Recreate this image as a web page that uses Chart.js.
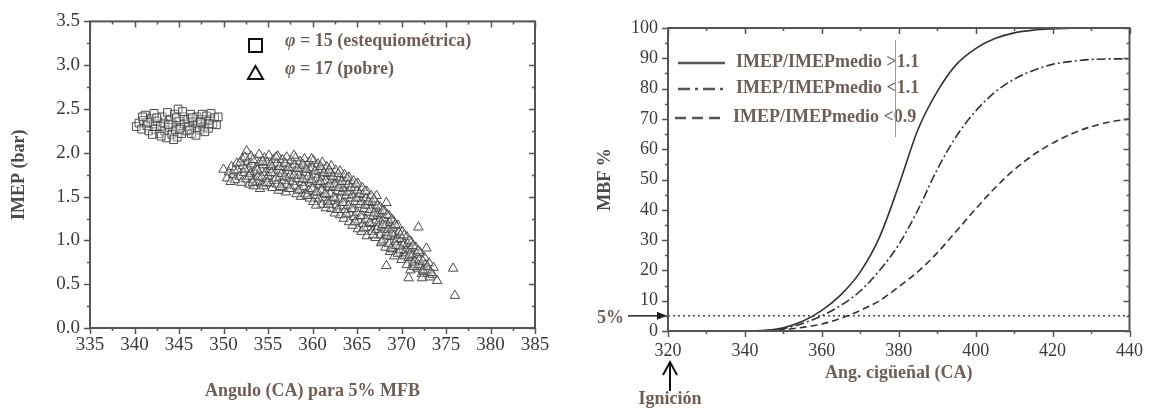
<!DOCTYPE html>
<html lang="es">
<head>
<meta charset="UTF-8">
<title>IMEP y MBF frente al ángulo</title>
<script src="https://cdn.jsdelivr.net/npm/chart.js"></script>
<style>
  body { margin: 0; background: #fff; }
  .wrap { position: relative; width: 1152px; height: 408px; }
  #imepChart { position: absolute; left: 0; top: 0; }
  #mbfChart { position: absolute; left: 560px; top: 0; }
</style>
</head>
<body>
<div class="wrap">
  <canvas id="imepChart" width="560" height="408"></canvas>
  <canvas id="mbfChart" width="592" height="408"></canvas>
</div>
<script>
// --- IMEP frente al ángulo de 5% MFB ---
const imepLabels = ['φ = 15 (estequiométrica)', 'φ = 17 (pobre)'];

// mezcla estequiométrica [ángulo, IMEP]
const squares = [
  [340.2,2.30],[340.5,2.34],[340.8,2.27],[341.2,2.43],[341.0,2.37],[341.4,2.31],[341.6,2.25],[341.9,2.39],
  [342.1,2.33],[342.3,2.27],[342.2,2.45],[342.6,2.36],[342.8,2.22],[342.9,2.30],[343.1,2.41],[343.3,2.34],
  [343.4,2.25],[343.6,2.17],[343.7,2.46],[343.9,2.29],[344.0,2.38],[344.2,2.21],[344.3,2.33],[344.5,2.44],
  [344.6,2.26],[344.8,2.18],[344.9,2.50],[345.0,2.36],[345.2,2.29],[345.3,2.22],[345.5,2.41],[345.6,2.33],
  [345.8,2.25],[346.0,2.38],[346.1,2.30],[346.3,2.44],[346.4,2.22],[346.6,2.35],[346.8,2.28],[347.0,2.41],
  [347.1,2.33],[347.3,2.26],[347.5,2.38],[347.6,2.44],[347.8,2.30],[348.0,2.36],[348.1,2.42],[348.3,2.28],
  [348.5,2.38],[348.6,2.45],[348.8,2.33],[349.0,2.40],[349.2,2.32],[349.4,2.41],[342.5,2.40],[343.0,2.19],
  [344.4,2.15],[345.4,2.47],[346.9,2.20],[341.5,2.35],[340.9,2.41],[343.8,2.32],[345.1,2.27],[346.5,2.40],
  [347.9,2.24],[348.4,2.33],[344.7,2.40],[342.0,2.21],[346.2,2.26],[347.4,2.35]
];

// mezcla pobre [ángulo, IMEP]
const triangles = [
  [350.0,1.81],[350.4,1.71],[350.6,1.78],[350.9,1.84],[351.1,1.75],[351.3,1.69],
  [351.5,1.88],[351.6,1.80],[351.8,1.73],
  [352.0,1.66],[352.1,1.93],[352.2,1.85],[352.3,1.77],
  [352.6,2.02],[352.7,1.90],[352.5,1.70],[352.8,1.82],[352.9,1.64],
  [353.1,1.96],[353.2,1.87],[353.0,1.76],[353.3,1.69],[353.4,1.62],
  [353.6,1.92],[353.7,1.83],[353.5,1.78],[353.8,1.67],
  [354.0,1.98],[354.1,1.89],[354.2,1.81],[353.9,1.73],[354.3,1.65],[354.1,1.59],
  [354.6,1.94],[354.5,1.86],[354.7,1.77],[354.8,1.70],[354.5,1.62],
  [355.1,1.97],[354.9,1.89],[355.2,1.81],[355.0,1.73],[355.3,1.65],
  [355.6,1.92],[355.5,1.84],[355.8,1.77],[355.7,1.68],[355.5,1.60],
  [356.1,1.96],[356.0,1.88],[356.2,1.80],[356.3,1.72],[356.0,1.64],[356.2,1.57],
  [356.6,1.92],[356.7,1.84],[356.5,1.76],[356.8,1.68],[356.6,1.60],
  [357.1,1.95],[357.0,1.87],[357.2,1.79],[357.3,1.71],[357.1,1.63],[357.0,1.55],
  [357.6,1.91],[357.7,1.83],[357.5,1.75],[357.8,1.67],[357.6,1.59],
  [358.1,1.94],[358.0,1.86],[358.2,1.78],[358.3,1.70],[358.0,1.62],[358.2,1.53],
  [358.6,1.90],[358.7,1.82],[358.5,1.74],[358.8,1.66],[358.6,1.58],[358.7,1.50],
  [359.1,1.93],[359.0,1.85],[359.2,1.77],[359.3,1.69],[359.0,1.61],[359.2,1.53],
  [359.6,1.89],[359.7,1.81],[359.5,1.73],[359.8,1.65],[359.6,1.57],[359.7,1.48],
  [360.1,1.91],[360.0,1.83],[360.2,1.75],[360.3,1.67],[360.0,1.59],[360.2,1.51],[360.1,1.44],
  [360.6,1.87],[360.7,1.79],[360.5,1.71],[360.8,1.63],[360.6,1.55],[360.7,1.47],
  [361.1,1.89],[361.0,1.81],[361.2,1.73],[361.3,1.65],[361.0,1.57],[361.2,1.49],[361.1,1.41],
  [361.6,1.84],[361.7,1.76],[361.5,1.68],[361.8,1.60],[361.6,1.52],[361.7,1.44],[361.5,1.37],
  [362.1,1.85],[362.0,1.77],[362.2,1.69],[362.3,1.61],[362.0,1.53],[362.2,1.45],[362.1,1.36],
  [362.6,1.80],[362.7,1.72],[362.5,1.64],[362.8,1.56],[362.6,1.48],[362.7,1.40],[362.5,1.31],
  [363.1,1.79],[363.0,1.71],[363.2,1.63],[363.3,1.55],[363.0,1.47],[363.2,1.39],[363.1,1.29],
  [363.6,1.75],[363.7,1.67],[363.5,1.59],[363.8,1.51],[363.6,1.43],[363.7,1.35],[363.5,1.25],
  [364.1,1.72],[364.0,1.64],[364.2,1.56],[364.3,1.48],[364.0,1.40],[364.2,1.31],[364.1,1.21],
  [364.6,1.68],[364.7,1.60],[364.5,1.52],[364.8,1.44],[364.6,1.36],[364.7,1.27],[364.5,1.17],
  [365.1,1.65],[365.0,1.57],[365.2,1.49],[365.3,1.41],[365.0,1.32],[365.2,1.23],[365.1,1.13],
  [365.6,1.60],[365.7,1.52],[365.5,1.44],[365.8,1.36],[365.6,1.28],[365.7,1.19],[365.5,1.10],
  [366.1,1.56],[366.0,1.48],[366.2,1.40],[366.3,1.32],[366.0,1.24],[366.2,1.15],[366.1,1.05],
  [366.6,1.51],[366.7,1.43],[366.5,1.35],[366.8,1.27],[366.6,1.19],[366.7,1.10],
  [367.2,1.51],[367.0,1.44],[367.2,1.36],[367.3,1.28],[367.0,1.20],[367.2,1.12],[367.1,1.03],
  [367.6,1.38],[367.7,1.30],[367.5,1.22],[367.8,1.14],[367.6,1.06],[367.7,0.97],
  [368.3,1.43],[368.1,1.33],[368.0,1.25],[368.2,1.17],[368.3,1.09],[368.0,1.01],[368.2,0.92],[368.3,0.71],
  [368.6,1.28],[368.7,1.20],[368.5,1.12],[368.8,1.04],[368.6,0.96],[368.7,0.87],
  [369.1,1.22],[369.0,1.14],[369.2,1.06],[369.3,0.98],[369.0,0.90],[369.2,0.82],
  [369.6,1.17],[369.7,1.09],[369.5,1.01],[369.8,0.93],[369.6,0.85],
  [370.1,1.10],[370.0,1.02],[370.2,0.94],[370.3,0.86],[370.0,0.78],
  [370.6,1.04],[370.7,0.96],[370.5,0.88],[370.8,0.80],[370.6,0.72],[370.8,0.57],
  [371.1,0.98],[371.0,0.90],[371.2,0.82],[371.3,0.74],[371.0,0.66],
  [371.6,0.92],[371.7,0.84],[371.5,0.76],[371.8,0.68],[371.9,1.15],
  [372.1,0.86],[372.0,0.78],[372.2,0.70],[372.3,0.62],[372.3,0.57],
  [372.6,0.80],[372.7,0.72],[372.5,0.64],[372.8,0.91],
  [373.1,0.74],[373.0,0.66],[373.2,0.58],
  [373.6,0.69],[373.5,0.61],[374.0,0.54],
  [375.8,0.68],[376.0,0.37],
  // puntos intermedios del núcleo de la nube
  [353.3,1.92],[353.8,1.80],[354.3,1.72],[354.4,1.90],[354.9,1.66],[355.3,1.86],[355.4,1.77],[355.9,1.95],
  [355.9,1.71],[356.3,1.84],[356.4,1.61],[356.9,1.88],[356.9,1.73],[357.3,1.83],[357.4,1.59],[357.9,1.97],
  [357.9,1.74],[358.3,1.82],[358.4,1.57],[358.9,1.87],[358.9,1.70],[359.3,1.81],[359.4,1.51],[359.9,1.93],
  [359.9,1.69],[360.3,1.79],[360.4,1.55],[360.9,1.84],[360.9,1.67],[360.4,1.40],[361.3,1.77],[361.4,1.53],
  [361.9,1.80],[361.9,1.64],[361.8,1.41],[362.3,1.73],[362.4,1.49],[362.9,1.76],[362.9,1.60],[362.8,1.35],
  [363.3,1.67],[363.4,1.43],[363.9,1.71],[363.9,1.55],[363.8,1.30],[364.3,1.60],[364.4,1.36],[364.9,1.64],
  [364.9,1.48],[364.8,1.21],[365.3,1.53],[365.4,1.28],[365.9,1.56],[365.9,1.40],[365.8,1.14],[366.3,1.44],
  [366.4,1.20],[366.9,1.47],[366.9,1.31],[366.8,1.06],[367.3,1.40],[367.4,1.16],[367.9,1.34],[367.9,1.18],
  [367.8,0.99],[368.4,1.29],[368.4,1.05],[368.9,1.24],[368.9,1.08],[368.8,0.91],[369.3,1.18],[369.4,0.94],
  [369.9,1.06],[369.9,0.89],[370.3,1.06],[370.4,0.82],[370.9,1.00],[370.9,0.84],[371.3,0.94],[371.4,0.70],
  [371.9,0.88],[371.9,0.72],[372.4,0.76],[372.4,0.66],[372.9,0.70],[373.3,0.63],[351.9,1.89],[352.4,1.81],
  [352.4,1.95],[352.9,1.73],[353.3,1.66],[351.2,1.80],[350.8,1.67]
];

// --- fracción de masa quemada frente al ángulo de cigüeñal ---
const mbfLabels = ['IMEP/IMEPmedio >1.1', 'IMEP/IMEPmedio <1.1', 'IMEP/IMEPmedio <0.9'];
const crankAngle = [340, 345, 350, 355, 360, 365, 370, 375, 380, 385, 390, 395, 400, 405, 410, 415, 420, 425, 430, 435, 440];
const mbfHigh = [0, 0.2, 1.1, 3.2, 6.8, 12.0, 19.5, 31.0, 48.0, 66.5, 79.0, 88.0, 93.2, 96.5, 98.4, 99.3, 99.7, 99.9, 100, 100, 100];
const mbfMid  = [0, 0.1, 0.8, 2.5, 5.0, 8.5, 13.2, 20.0, 28.5, 40.0, 53.3, 64.3, 72.6, 78.8, 83.1, 86.0, 88.0, 89.0, 89.6, 89.8, 89.8];
const mbfLow  = [0, 0.1, 0.5, 1.2, 2.3, 4.2, 6.8, 10.0, 14.6, 19.6, 25.8, 33.0, 40.3, 47.2, 53.2, 58.1, 62.0, 65.1, 67.4, 69.0, 70.0];
const mbfThreshold = 5;
const ignitionAngle = 320;

const serif = "'Liberation Serif', 'Times New Roman', serif";
const brown = '#6d5f57';
const axisGray = '#555';
const tickColor = '#3a3a3a';

// marco completo con marcas mayores y menores en los cuatro lados
const boxTicks = {
  id: 'boxTicks',
  afterDatasetsDraw(chart, args, o) {
    const { ctx, chartArea: a } = chart;
    const sx = chart.scales.x, sy = chart.scales.y;
    const steps = (scale, step) => {
      const out = [];
      for (let i = 0; scale.min + i * step <= scale.max + 1e-6; i++) out.push(scale.min + i * step);
      return out;
    };
    ctx.save();
    ctx.strokeStyle = axisGray;
    ctx.lineWidth = 1.5;
    steps(sx, o.xMinor).forEach((v, i) => {
      const len = i % o.xRatio === 0 ? 6 : 3;
      const p = Math.round(sx.getPixelForValue(v)) + 0.5;
      ctx.beginPath();
      ctx.moveTo(p, a.bottom); ctx.lineTo(p, a.bottom + len);
      ctx.moveTo(p, a.top); ctx.lineTo(p, a.top + len);
      ctx.stroke();
    });
    steps(sy, o.yMinor).forEach((v, i) => {
      const len = i % o.yRatio === 0 ? 6 : 3;
      const p = Math.round(sy.getPixelForValue(v)) + 0.5;
      ctx.beginPath();
      ctx.moveTo(a.left, p); ctx.lineTo(a.left - len, p);
      ctx.moveTo(a.right, p); ctx.lineTo(a.right - len, p);
      ctx.stroke();
    });
    ctx.lineWidth = 2;
    ctx.strokeRect(a.left, a.top, a.right - a.left, a.bottom - a.top);
    ctx.restore();
  }
};

// leyenda con símbolos grandes del gráfico de dispersión
const imepLegend = {
  id: 'imepLegend',
  afterDraw(chart) {
    const ctx = chart.ctx;
    ctx.save();
    ctx.strokeStyle = '#111';
    ctx.lineWidth = 2;
    ctx.strokeRect(249, 39, 13, 13);
    ctx.beginPath();
    ctx.moveTo(255.5, 66); ctx.lineTo(263, 79); ctx.lineTo(248, 79); ctx.closePath();
    ctx.stroke();
    ctx.fillStyle = brown;
    ctx.textBaseline = 'middle';
    [41, 69].forEach((y, i) => {
      const txt = imepLabels[i];
      ctx.font = 'italic bold 18px ' + serif;
      ctx.fillText(txt[0], 285, y);
      const w = ctx.measureText(txt[0]).width;
      ctx.font = 'bold 18px ' + serif;
      ctx.fillText(txt.slice(1), 285 + w, y);
    });
    ctx.restore();
  }
};

// leyenda de líneas, flecha del 5% y marca de ignición
const mbfExtras = {
  id: 'mbfExtras',
  afterDraw(chart) {
    const { ctx, chartArea: a, scales: { x, y } } = chart;
    ctx.save();
    const dashes = [[], [12, 5, 3, 5], [11, 6]];
    const rows = [[118, 63, 176], [118, 89, 176], [115, 118, 173]];
    rows.forEach(([lx, ly, tx], i) => {
      ctx.strokeStyle = '#555';
      ctx.lineWidth = 2.5;
      ctx.setLineDash(dashes[i]);
      ctx.beginPath(); ctx.moveTo(lx, ly); ctx.lineTo(lx + 47, ly); ctx.stroke();
      ctx.setLineDash([]);
      ctx.fillStyle = brown;
      ctx.font = 'bold 18px ' + serif;
      ctx.textBaseline = 'middle';
      ctx.fillText(mbfLabels[i], tx, ly - 1);
    });
    ctx.strokeStyle = '#9a9a9a';
    ctx.lineWidth = 1;
    ctx.beginPath(); ctx.moveTo(335.5, 40); ctx.lineTo(335.5, 137); ctx.stroke();

    // 5%
    const py = y.getPixelForValue(mbfThreshold);
    ctx.fillStyle = brown;
    ctx.font = 'bold 18px ' + serif;
    ctx.textAlign = 'left';
    ctx.fillText(mbfThreshold + '%', 37, py + 2);
    ctx.strokeStyle = '#222';
    ctx.lineWidth = 1.5;
    ctx.beginPath(); ctx.moveTo(68, py); ctx.lineTo(a.left - 8, py); ctx.stroke();
    ctx.fillStyle = '#222';
    ctx.beginPath();
    ctx.moveTo(a.left - 1, py); ctx.lineTo(a.left - 11, py - 4); ctx.lineTo(a.left - 11, py + 4); ctx.closePath();
    ctx.fill();

    // ignición
    const px = x.getPixelForValue(ignitionAngle);
    ctx.strokeStyle = '#111';
    ctx.lineWidth = 2;
    ctx.beginPath();
    ctx.moveTo(px + 2, 391); ctx.lineTo(px + 2, 363);
    ctx.moveTo(px - 5, 375); ctx.lineTo(px + 2, 362); ctx.lineTo(px + 9, 375);
    ctx.stroke();
    ctx.fillStyle = brown;
    ctx.textAlign = 'center';
    ctx.fillText('Ignición', px + 2, 399);
    ctx.restore();
  }
};

const tickFont = size => ({ family: serif, size: size });

new Chart(document.getElementById('imepChart'), {
  type: 'scatter',
  data: {
    datasets: [
      {
        label: imepLabels[0],
        data: squares.map(p => ({ x: p[0], y: p[1] })),
        pointStyle: 'rect',
        pointRadius: 5.5,
        borderWidth: 1,
        borderColor: '#4a4a4a',
        backgroundColor: 'rgba(255,255,255,0.3)'
      },
      {
        label: imepLabels[1],
        data: triangles.map(p => ({ x: p[0], y: p[1] })),
        pointStyle: 'triangle',
        pointRadius: 5.5,
        borderWidth: 1,
        borderColor: '#4a4a4a',
        backgroundColor: 'rgba(255,255,255,0.3)'
      }
    ]
  },
  options: {
    responsive: false,
    animation: false,
    layout: { padding: { top: 19, right: 25, left: 0, bottom: 0 } },
    plugins: {
      legend: { display: false },
      tooltip: { enabled: false },
      boxTicks: { xMinor: 2.5, xRatio: 2, yMinor: 0.25, yRatio: 2 }
    },
    scales: {
      x: {
        type: 'linear', min: 335, max: 385,
        grid: { display: false, drawTicks: false },
        border: { display: false },
        ticks: { stepSize: 5, padding: 6, color: tickColor, font: tickFont(19), autoSkip: false, maxRotation: 0 },
        title: { display: true, text: 'Angulo (CA) para 5% MFB', color: brown,
                 font: { family: serif, size: 18, weight: 'bold' }, padding: { top: 0, bottom: 6 } },
        afterFit: s => { s.height = 80; }
      },
      y: {
        min: 0, max: 3.5,
        grid: { display: false, drawTicks: false },
        border: { display: false },
        ticks: { stepSize: 0.5, padding: 10, color: tickColor, font: tickFont(19), callback: v => v.toFixed(1) },
        title: { display: true, text: 'IMEP (bar)', color: '#4a4a4a',
                 font: { family: serif, size: 18, weight: 'bold' }, padding: { top: 9, bottom: 0 } },
        afterFit: s => { s.width = 90; }
      }
    }
  },
  plugins: [boxTicks, imepLegend]
});

const curve = vals => crankAngle.map((a, i) => ({ x: a, y: vals[i] }));
const lineStyle = { showLine: true, pointRadius: 0, borderColor: '#333', borderWidth: 1.6, cubicInterpolationMode: 'monotone', fill: false };

new Chart(document.getElementById('mbfChart'), {
  type: 'scatter',
  data: {
    datasets: [
      Object.assign({ label: mbfLabels[0], data: curve(mbfHigh) }, lineStyle),
      Object.assign({ label: mbfLabels[1], data: curve(mbfMid), borderDash: [9, 3, 2, 3] }, lineStyle),
      Object.assign({ label: mbfLabels[2], data: curve(mbfLow), borderDash: [7, 4] }, lineStyle),
      Object.assign({}, lineStyle, {
        label: '5%',
        data: [{ x: 320, y: mbfThreshold }, { x: 440, y: mbfThreshold }],
        borderDash: [2, 3], borderWidth: 1.5, borderColor: '#444'
      })
    ]
  },
  options: {
    responsive: false,
    animation: false,
    layout: { padding: { top: 28, right: 17, left: 0, bottom: 0 } },
    plugins: {
      legend: { display: false },
      tooltip: { enabled: false },
      boxTicks: { xMinor: 10, xRatio: 2, yMinor: 5, yRatio: 2 }
    },
    scales: {
      x: {
        type: 'linear', min: 320, max: 440,
        grid: { display: false, drawTicks: false },
        border: { display: false },
        ticks: { stepSize: 20, padding: 9, color: tickColor, font: tickFont(18), autoSkip: false, maxRotation: 0 },
        title: { display: true, text: 'Ang. cigüeñal (CA)', color: brown,
                 font: { family: serif, size: 18, weight: 'bold' }, padding: { top: 0, bottom: 24 } },
        afterFit: s => { s.height = 77; }
      },
      y: {
        min: 0, max: 100,
        grid: { display: false, drawTicks: false },
        border: { display: false },
        ticks: { stepSize: 10, padding: 10, color: tickColor, font: tickFont(18) },
        title: { display: true, text: 'MBF %', color: '#4a4a4a',
                 font: { family: serif, size: 18, weight: 'bold' }, padding: { top: 35, bottom: 0 } },
        afterFit: s => { s.width = 108; }
      }
    }
  },
  plugins: [boxTicks, mbfExtras]
});
</script>
</body>
</html>
